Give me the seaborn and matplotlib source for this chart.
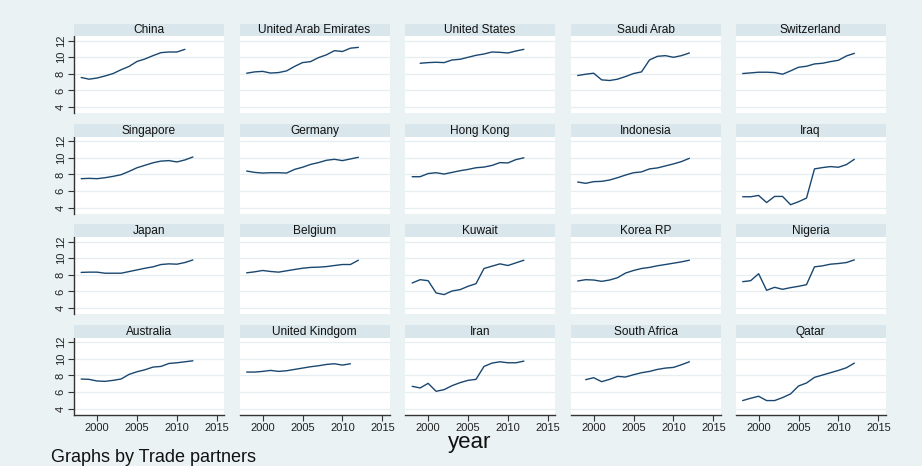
import matplotlib
matplotlib.use("Agg")
import matplotlib.pyplot as plt
import seaborn as sns
import pandas as pd

# ---------------- data ----------------
countries = ["China", "United Arab Emirates", "United States", "Saudi Arab", "Switzerland",
             "Singapore", "Germany", "Hong Kong", "Indonesia", "Iraq",
             "Japan", "Belgium", "Kuwait", "Korea RP", "Nigeria",
             "Australia", "United Kindgom", "Iran", "South Africa", "Qatar"]

start_years = {"United States": 1999, "South Africa": 1999}  # others start in 1998

china = [7.56, 7.36, 7.5, 7.75, 8.04, 8.5, 8.9, 9.5, 9.8, 10.2, 10.56, 10.64, 10.64, 10.96]
uae = [8.08, 8.24, 8.3, 8.1, 8.16, 8.36, 8.9, 9.36, 9.48, 9.96, 10.3, 10.8, 10.7, 11.1, 11.2]
united_states = [9.28, 9.36, 9.4, 9.36, 9.68, 9.76, 10.0, 10.24, 10.4, 10.64, 10.6, 10.52, 10.76, 10.96]
saudi_arab = [7.8, 7.96, 8.08, 7.28, 7.2, 7.36, 7.68, 8.04, 8.24, 9.68, 10.12, 10.2, 10.0, 10.2, 10.52]
switzerland = [8.04, 8.12, 8.2, 8.2, 8.16, 7.96, 8.36, 8.8, 8.92, 9.2, 9.28, 9.48, 9.64, 10.16, 10.48]
singapore = [7.48, 7.52, 7.48, 7.6, 7.76, 7.96, 8.36, 8.8, 9.1, 9.4, 9.6, 9.66, 9.5, 9.74, 10.1]
germany = [8.4, 8.24, 8.16, 8.2, 8.2, 8.16, 8.6, 8.86, 9.2, 9.42, 9.7, 9.82, 9.66, 9.86, 10.06]
hong_kong = [7.72, 7.72, 8.1, 8.2, 8.04, 8.24, 8.44, 8.6, 8.8, 8.88, 9.08, 9.42, 9.38, 9.78, 10.0]
indonesia = [7.08, 6.92, 7.12, 7.16, 7.32, 7.6, 7.92, 8.2, 8.3, 8.66, 8.78, 9.02, 9.26, 9.54, 9.94]
iraq = [5.3, 5.3, 5.46, 4.6, 5.34, 5.34, 4.34, 4.7, 5.14, 8.66, 8.82, 8.94, 8.86, 9.18, 9.82]
japan = [8.3, 8.33, 8.33, 8.2, 8.2, 8.2, 8.4, 8.6, 8.8, 8.97, 9.25, 9.33, 9.29, 9.49, 9.8]
belgium = [8.25, 8.37, 8.53, 8.41, 8.33, 8.49, 8.65, 8.8, 8.9, 8.93, 9.0, 9.13, 9.25, 9.25, 9.77]
kuwait = [7.02, 7.42, 7.3, 5.82, 5.62, 6.06, 6.22, 6.62, 6.94, 8.77, 9.05, 9.33, 9.13, 9.45, 9.77]
korea_rp = [7.26, 7.42, 7.38, 7.22, 7.38, 7.66, 8.22, 8.53, 8.77, 8.9, 9.1, 9.25, 9.41, 9.57, 9.77]
nigeria = [7.18, 7.3, 8.14, 6.14, 6.5, 6.26, 6.46, 6.62, 6.82, 8.97, 9.09, 9.29, 9.37, 9.49, 9.81]
australia = [7.56, 7.52, 7.32, 7.28, 7.4, 7.56, 8.12, 8.44, 8.68, 9.0, 9.08, 9.44, 9.52, 9.64, 9.76]
united_kingdom = [8.4, 8.4, 8.48, 8.6, 8.48, 8.56, 8.72, 8.88, 9.04, 9.16, 9.32, 9.4, 9.24, 9.4]
iran = [6.68, 6.48, 7.04, 6.08, 6.28, 6.76, 7.12, 7.4, 7.52, 9.08, 9.48, 9.64, 9.52, 9.52, 9.72]
south_africa = [7.48, 7.72, 7.24, 7.52, 7.88, 7.8, 8.08, 8.32, 8.48, 8.72, 8.88, 8.96, 9.28, 9.64]
qatar = [4.96, 5.24, 5.48, 4.96, 4.96, 5.32, 5.76, 6.72, 7.08, 7.76, 8.04, 8.32, 8.6, 8.92, 9.48]

series = [china, uae, united_states, saudi_arab, switzerland,
          singapore, germany, hong_kong, indonesia, iraq,
          japan, belgium, kuwait, korea_rp, nigeria,
          australia, united_kingdom, iran, south_africa, qatar]

y_ticks = [4, 6, 8, 10, 12]
x_ticks = [2000, 2005, 2010, 2015]

rows = []
for name, vals in zip(countries, series):
    y0 = start_years.get(name, 1998)
    for k, v in enumerate(vals):
        rows.append({"country": name, "year": y0 + k, "value": v})
df = pd.DataFrame(rows)

# ---------------- style ----------------
sns.set_style("white")
plt.rcParams["font.family"] = ["Liberation Sans", "DejaVu Sans"]

BG = "#eaf2f3"
STRIP = "#d9e6eb"
GRID = "#e6eef0"
LINE = "#1a476f"
AXC = "#333333"

W, H = 922, 466
fig = plt.figure(figsize=(W / 100, H / 100), dpi=100, facecolor=BG)


def rect(l, t, w, h):
    return [l / W, 1 - (t + h) / H, w / W, h / H]


col_left = [74, 239.5, 405, 570.5, 735.5]
panel_w = 150
strip_top = [23.5, 124, 224.5, 325]
strip_h = 12.5
plot_h = 77

for i, name in enumerate(countries):
    r, c = divmod(i, 5)
    ax = fig.add_axes(rect(col_left[c], strip_top[r] + strip_h, panel_w, plot_h))
    sax = fig.add_axes(rect(col_left[c], strip_top[r], panel_w, strip_h))
    sax.set_facecolor(STRIP)
    sax.set_xticks([])
    sax.set_yticks([])
    for s in sax.spines.values():
        s.set_visible(False)
    sax.text(0.5, 0.45, name, ha="center", va="center", fontsize=8.6,
             color="#111111", transform=sax.transAxes)

    sub = df[df["country"] == name]
    sns.lineplot(data=sub, x="year", y="value", ax=ax, color=LINE, lw=1.0)
    ax.set_facecolor("white")
    ax.set_xlim(1997.1, 2015.9)
    ax.set_ylim(3.28, 12.57)
    ax.set_yticks(y_ticks)
    ax.set_xticks(x_ticks)
    ax.yaxis.grid(True, color=GRID, lw=0.9)
    ax.xaxis.grid(False)
    ax.set_axisbelow(True)
    ax.set_xlabel("")
    ax.set_ylabel("")
    for s in ax.spines.values():
        s.set_visible(False)
    if c == 0:
        ax.spines["left"].set_visible(True)
        ax.spines["left"].set_color(AXC)
        ax.spines["left"].set_linewidth(1.0)
        ax.tick_params(axis="y", left=True, length=4, width=0.8, color=AXC,
                       labelsize=8, labelcolor="#222222", pad=2, labelrotation=90)
        for lbl in ax.get_yticklabels():
            lbl.set_va("center")
    else:
        ax.tick_params(axis="y", left=False, labelleft=False)
    if r == 3:
        ax.spines["bottom"].set_visible(True)
        ax.spines["bottom"].set_color(AXC)
        ax.spines["bottom"].set_linewidth(1.0)
        ax.tick_params(axis="x", bottom=True, length=4, width=0.8, color=AXC,
                       labelsize=8, labelcolor="#222222", pad=2)
    else:
        ax.tick_params(axis="x", bottom=False, labelbottom=False)

fig.text(470 / W, 1 - 448 / H, "year", ha="center", va="baseline", fontsize=16, color="#111111")
fig.text(51 / W, 1 - 465.5 / H, "Graphs by Trade partners", ha="left", va="bottom",
         fontsize=13, color="#111111")

fig.savefig("out.png", dpi=100, facecolor=BG)
